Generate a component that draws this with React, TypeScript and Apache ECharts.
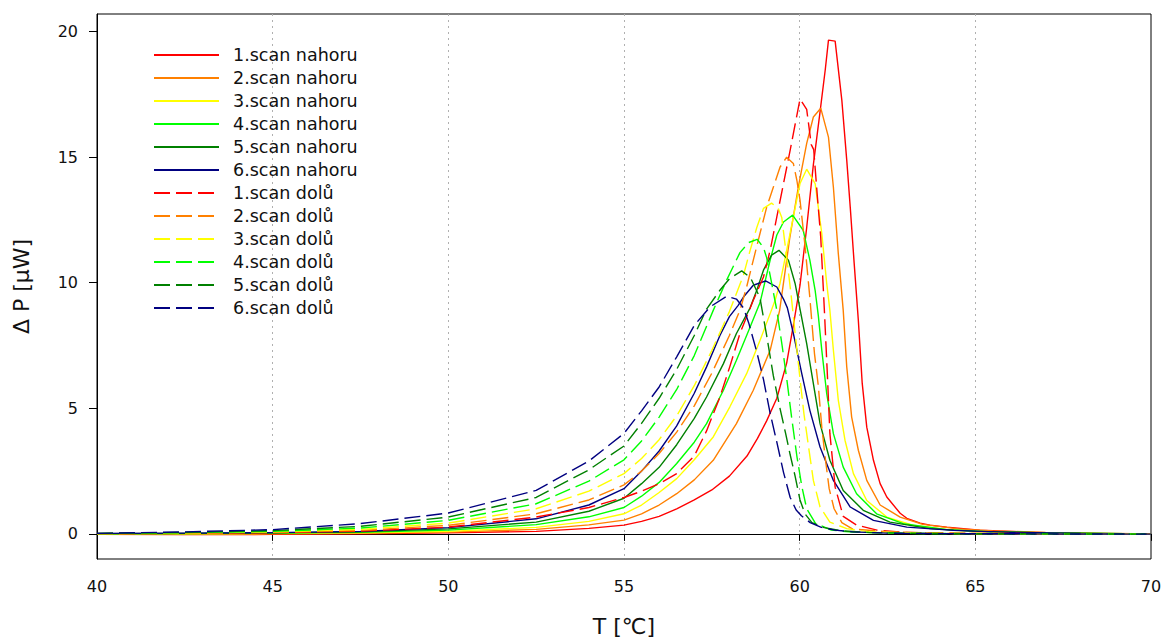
import React, { useEffect, useRef } from "react";
import * as echarts from "echarts";

const upNames = ["1.scan nahoru", "2.scan nahoru", "3.scan nahoru", "4.scan nahoru", "5.scan nahoru", "6.scan nahoru"];
const downNames = ["1.scan dolů", "2.scan dolů", "3.scan dolů", "4.scan dolů", "5.scan dolů", "6.scan dolů"];
const scanColors = ["#ff0000", "#ff8000", "#ffff00", "#00ff00", "#008000", "#000080"];

const xTicks = [40, 45, 50, 55, 60, 65, 70];
const yTicks = [0, 5, 10, 15, 20];

const up1 = [[40,-0.02],[42.5,-0.03],[45,-0.02],[47.5,0.0],[50,0.04],[52.5,0.1],[54,0.22],[55,0.35],[55.5,0.5],[56,0.7],[56.5,1.0],[57,1.35],[57.5,1.75],[58,2.3],[58.5,3.1],[58.8,3.8],[59.06,4.5],[59.35,5.4],[59.63,6.8],[59.82,8.3],[60.01,9.9],[60.2,12.2],[60.39,14.7],[60.58,16.8],[60.73,18.5],[60.82,19.66],[61.01,19.62],[61.2,17.27],[61.34,14.88],[61.44,13.0],[61.55,10.8],[61.67,8.5],[61.78,6.0],[61.91,4.25],[62.1,2.93],[62.29,2.0],[62.48,1.47],[62.86,0.82],[63.05,0.62],[63.43,0.43],[63.71,0.35],[64.19,0.27],[65.13,0.15],[66.27,0.08],[67.5,0.03],[68.5,0.01],[70,0.0]];
const up2 = [[40,-0.01],[42.5,-0.01],[45,0.0],[47.5,0.02],[50,0.07],[52.5,0.18],[54,0.36],[55,0.55],[55.5,0.8],[56,1.15],[56.5,1.6],[57,2.15],[57.54,2.93],[58.2,4.39],[58.68,5.72],[59.16,7.31],[59.43,8.9],[59.72,11.8],[59.96,13.8],[60.2,15.55],[60.39,16.6],[60.6,16.95],[60.82,15.8],[60.96,13.8],[61.1,11.16],[61.24,8.9],[61.34,6.65],[61.48,4.65],[61.67,3.33],[61.91,2.13],[62.29,1.15],[62.86,0.67],[63.5,0.38],[64.5,0.2],[65.5,0.12],[67,0.06],[69,0.02],[70,0.0]];
const up3 = [[40,0.0],[42.5,0.0],[45,0.02],[47.5,0.04],[50,0.1],[52.5,0.26],[54,0.5],[55,0.8],[55.5,1.15],[56,1.65],[56.5,2.2],[57,2.95],[57.54,3.86],[58.01,5.05],[58.49,6.38],[58.87,7.7],[59.16,8.77],[59.3,9.3],[59.44,9.97],[59.63,11.29],[59.82,12.62],[60.01,13.95],[60.2,14.52],[60.44,13.95],[60.63,11.96],[60.77,9.97],[60.86,8.9],[60.96,7.31],[61.1,5.32],[61.29,3.73],[61.53,2.4],[61.91,1.33],[62.48,0.67],[63.24,0.34],[64.38,0.14],[66,0.06],[68,0.02],[70,0.0]];
const up4 = [[40,0.0],[42.5,0.01],[45,0.03],[47.5,0.06],[50,0.15],[52.5,0.37],[54,0.68],[55,1.05],[55.5,1.5],[56,2.05],[56.5,2.8],[57,3.65],[57.35,4.39],[57.83,5.72],[58.2,6.91],[58.59,8.24],[58.87,9.2],[59.16,10.9],[59.35,11.9],[59.54,12.42],[59.8,12.69],[60.1,12.09],[60.29,10.9],[60.44,9.7],[60.53,8.7],[60.63,7.31],[60.77,5.58],[60.96,3.99],[61.24,2.66],[61.62,1.6],[62.19,0.8],[62.95,0.41],[64.19,0.17],[65.5,0.08],[67,0.04],[70,0.0]];
const up5 = [[40,0.01],[42.5,0.02],[45,0.04],[47.5,0.08],[50,0.2],[52.5,0.47],[54,0.9],[55,1.42],[55.5,2.0],[56,2.65],[56.5,3.55],[57,4.6],[57.35,5.45],[57.83,6.78],[58.2,7.98],[58.59,9.0],[58.78,9.7],[58.97,10.5],[59.2,11.1],[59.41,11.29],[59.68,10.9],[59.87,9.97],[60.01,8.95],[60.2,7.58],[60.39,5.98],[60.58,4.39],[60.86,2.93],[61.24,1.73],[61.81,0.94],[62.57,0.47],[63.71,0.21],[65,0.1],[67,0.04],[70,0.0]];
const up6 = [[40,0.02],[42.5,0.03],[45,0.05],[47.5,0.1],[50,0.25],[52.5,0.6],[54,1.15],[55,1.8],[55.5,2.5],[56,3.3],[56.5,4.3],[57,5.6],[57.35,6.65],[57.73,7.9],[58.0,8.65],[58.25,9.1],[58.4,9.43],[58.68,9.9],[59.03,10.07],[59.35,9.83],[59.54,9.35],[59.65,9.0],[59.82,7.98],[60.06,6.38],[60.29,4.92],[60.58,3.46],[60.96,2.13],[61.44,1.07],[62.1,0.54],[63.05,0.27],[64.38,0.14],[66,0.06],[68,0.02],[70,0.0]];

const down1 = [[40,0.0],[42.5,0.02],[45,0.05],[47.5,0.11],[50,0.27],[52.5,0.67],[54,1.05],[55,1.45],[55.5,1.7],[56,2.0],[56.5,2.4],[57,3.1],[57.35,4.1],[57.73,5.45],[58.01,6.65],[58.3,7.98],[58.68,9.3],[58.97,10.23],[59.16,11.29],[59.35,12.62],[59.54,13.95],[59.73,15.28],[59.87,16.3],[60.01,17.31],[60.2,16.9],[60.33,15.5],[60.4,15.3],[60.5,13.5],[60.6,11.8],[60.7,9.0],[60.79,6.3],[60.86,4.0],[61.01,1.86],[61.24,0.7],[61.62,0.35],[62.2,0.15],[63,0.06],[65,0.02],[70,-0.01]];
const down2 = [[40,0.0],[42.5,0.03],[45,0.06],[47.5,0.14],[50,0.34],[52.5,0.8],[54,1.35],[55,1.95],[55.5,2.5],[56,3.2],[56.5,4.05],[57,5.1],[57.5,6.4],[58,7.9],[58.3,8.9],[58.49,9.83],[58.68,10.9],[58.87,11.96],[59.06,13.0],[59.25,13.8],[59.44,14.6],[59.63,15.0],[59.82,14.75],[59.92,14.08],[60.01,13.29],[60.15,11.5],[60.29,9.4],[60.42,7.2],[60.53,5.9],[60.63,4.25],[60.73,3.0],[60.84,1.8],[60.98,1.0],[61.2,0.45],[61.5,0.2],[62.5,0.08],[64,0.02],[70,-0.01]];
const down3 = [[40,0.01],[42.5,0.04],[45,0.08],[47.5,0.18],[50,0.43],[52.5,1.0],[54,1.7],[55,2.4],[55.5,3.0],[56,3.75],[56.5,4.7],[57,5.9],[57.5,7.3],[58.0,8.85],[58.4,10.3],[58.59,11.29],[58.78,12.2],[58.97,12.96],[59.2,13.17],[59.39,12.96],[59.49,12.6],[59.63,11.0],[59.75,9.6],[59.87,8.0],[60.0,6.3],[60.12,4.8],[60.25,3.5],[60.39,2.13],[60.58,1.07],[60.86,0.47],[61.34,0.21],[62,0.08],[64,0.02],[70,-0.01]];
const down4 = [[40,0.01],[42.5,0.05],[45,0.1],[47.5,0.23],[50,0.54],[52.5,1.2],[54,2.1],[55,2.95],[55.5,3.7],[56,4.65],[56.5,5.75],[57,7.1],[57.54,8.9],[57.92,10.1],[58.3,11.2],[58.55,11.6],[58.79,11.73],[58.97,11.4],[59.06,11.0],[59.2,10.0],[59.35,8.9],[59.5,7.5],[59.63,6.2],[59.77,4.65],[59.92,3.1],[60.06,1.9],[60.2,1.0],[60.45,0.42],[60.9,0.15],[61.5,0.07],[63,0.02],[70,-0.01]];
const down5 = [[40,0.02],[42.5,0.06],[45,0.13],[47.5,0.3],[50,0.67],[52.5,1.45],[54,2.55],[55,3.5],[55.5,4.4],[56,5.4],[56.5,6.55],[57,7.9],[57.35,8.95],[57.73,9.7],[58.01,10.17],[58.35,10.47],[58.6,10.2],[58.87,9.4],[59.06,7.9],[59.25,6.3],[59.44,5.0],[59.6,4.0],[59.73,3.15],[59.87,2.3],[60.01,1.35],[60.15,0.8],[60.35,0.45],[60.7,0.25],[61.2,0.12],[62,0.05],[64,0.01],[70,-0.01]];
const down6 = [[40,0.02],[42.5,0.08],[45,0.17],[47.5,0.41],[50,0.83],[52.5,1.73],[54,2.9],[55,4.0],[55.5,4.9],[56,5.85],[56.5,7.05],[57,8.3],[57.45,9.04],[57.92,9.46],[58.2,9.35],[58.4,9.0],[58.55,8.4],[58.78,7.24],[58.97,6.15],[59.16,4.8],[59.35,3.65],[59.54,2.45],[59.73,1.45],[59.9,0.95],[60.05,0.72],[60.3,0.45],[60.6,0.27],[61,0.15],[61.5,0.08],[62.5,0.03],[64,0.01],[67,0.0],[70,-0.01]];

const FONT = "'DejaVu Sans', 'Liberation Sans', Arial, sans-serif";

export default function App() {
  const ref = useRef<HTMLDivElement>(null);
  useEffect(() => {
    document.body.style.margin = "0";
    const chart = echarts.init(ref.current as HTMLDivElement, null, { renderer: "svg" });
    const ups = [up1, up2, up3, up4, up5, up6];
    const downs = [down1, down2, down3, down4, down5, down6];
    const series: any[] = [];
    ups.forEach((d, i) => {
      series.push({
        name: upNames[i], type: "line", data: d, symbol: "none", smooth: false,
        lineStyle: { color: scanColors[i], width: 1.4, type: "solid" },
        itemStyle: { color: scanColors[i] },
      });
    });
    downs.forEach((d, i) => {
      series.push({
        name: downNames[i], type: "line", data: d, symbol: "none", smooth: false,
        lineStyle: { color: scanColors[i], width: 1.4, type: [16, 6] },
        itemStyle: { color: scanColors[i] },
      });
    });
    chart.setOption({
      animation: false,
      backgroundColor: "#ffffff",
      textStyle: { fontFamily: FONT },
      grid: { left: 97, right: 12, top: 14, bottom: 80, outerBoundsMode: "none", containLabel: false, show: true, borderColor: "#000", borderWidth: 1, backgroundColor: "transparent" },
      legend: {
        orient: "vertical", left: 148, top: 41, itemWidth: 65, itemHeight: 14, itemGap: 5,
        itemStyle: { opacity: 0, borderWidth: 0 },
        textStyle: { fontSize: 17.5, color: "#111", fontFamily: FONT, padding: [0, 0, 0, 9] },
        data: [...upNames, ...downNames],
      },
      xAxis: {
        type: "value", min: xTicks[0], max: xTicks[xTicks.length - 1], interval: 5,
        name: "T [℃]", nameLocation: "middle", nameGap: 56,
        nameTextStyle: { fontSize: 22, color: "#111", fontFamily: FONT },
        axisLine: { show: true, lineStyle: { color: "#000", width: 1 } },
        axisTick: { show: true, length: 7, lineStyle: { color: "#000" } },
        axisLabel: { fontSize: 16, color: "#111", margin: 19, fontFamily: FONT },
        splitLine: { show: true, showMinLine: false, showMaxLine: false, lineStyle: { color: "#b0b0b0", type: [2, 4], width: 1 } },
      },
      yAxis: {
        type: "value", min: -1, max: 20.7,
        name: "Δ P [μW]", nameLocation: "middle", nameGap: 65, nameRotate: 90,
        nameTextStyle: { fontSize: 22, color: "#111", fontFamily: FONT },
        axisLine: { show: true, lineStyle: { color: "#000", width: 1 } },
        axisTick: { show: true, length: 8, customValues: yTicks, lineStyle: { color: "#000" } },
        axisLabel: { fontSize: 16, color: "#111", margin: 19, customValues: yTicks, fontFamily: FONT },
        splitLine: { show: false },
      },
      series,
    });
    return () => chart.dispose();
  }, []);
  return <div ref={ref} style={{ width: 1163, height: 639 }} />;
}
